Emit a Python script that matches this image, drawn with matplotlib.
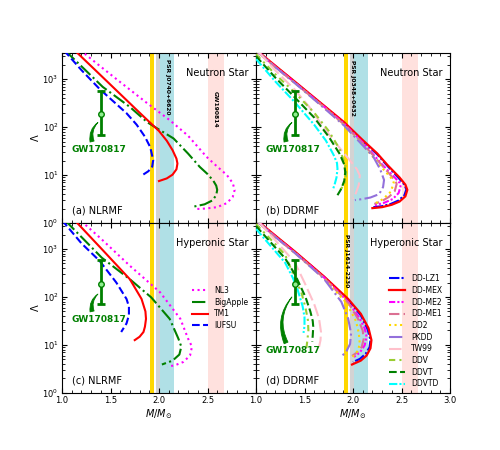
import numpy as np
import matplotlib
matplotlib.use("Agg")
import matplotlib.pyplot as plt
from matplotlib.ticker import FixedLocator, MultipleLocator, LogLocator, NullFormatter

# ---------------------------------------------------------------
# values (M in solar masses, Lambda)
# ---------------------------------------------------------------
# GW170817 constraint on Lambda_1.4
gw_m = 1.4
gw_lam = 190.0
gw_lo = 70.0
gw_hi = 580.0

# (a) NLRMF, neutron star
nl3_ns_m = [1.19, 1.40, 1.60, 1.87, 2.11, 2.30, 2.49, 2.60, 2.70, 2.76, 2.78, 2.76, 2.70, 2.60, 2.48, 2.37]
nl3_ns_lam = [4000, 1820, 870, 325, 140, 66, 24, 15, 10, 6.8, 4.9, 3.5, 2.6, 2.14, 2.0, 1.95]
bigapple_ns_m = [1.03, 1.20, 1.42, 1.70, 1.88, 2.00, 2.15, 2.30, 2.42, 2.50, 2.56, 2.59, 2.60, 2.59, 2.55, 2.47, 2.36]
bigapple_ns_lam = [4000, 1860, 690, 263, 126, 89, 58, 28, 14.8, 10.5, 7.6, 6.0, 4.9, 3.8, 2.95, 2.45, 2.2]
tm1_ns_m = [1.13, 1.40, 1.60, 1.80, 1.91, 2.00, 2.08, 2.14, 2.18, 2.19, 2.18, 2.14, 2.08, 2.00]
tm1_ns_lam = [4000, 1200, 490, 200, 123, 83, 52, 33, 22, 17.4, 13.2, 10.2, 8.5, 7.5]
iufsu_ns_m = [1.02, 1.20, 1.39, 1.55, 1.665, 1.77, 1.855, 1.91, 1.94, 1.93, 1.89, 1.83]
iufsu_ns_lam = [4000, 1550, 617, 316, 195, 112, 63, 38, 20.4, 15, 12, 10]

# (c) NLRMF, hyperonic star
nl3_hs_m = [1.20, 1.40, 1.70, 2.01, 2.22, 2.30, 2.34, 2.32, 2.25, 2.17, 2.09]
nl3_hs_lam = [3800, 1660, 447, 126, 35, 13.5, 9.2, 6.0, 4.4, 3.8, 3.5]
bigapple_hs_m = [1.03, 1.41, 1.70, 1.92, 2.11, 2.20, 2.23, 2.21, 2.14, 2.03]
bigapple_hs_lam = [4000, 660, 234, 98, 35, 13.5, 9.2, 6.3, 4.7, 3.9]
tm1_hs_m = [1.13, 1.40, 1.70, 1.82, 1.86, 1.866, 1.855, 1.84, 1.80, 1.75]
tm1_hs_lam = [4000, 1050, 234, 91, 50, 35, 24, 18.6, 14.8, 12.6]
iufsu_hs_m = [1.00, 1.20, 1.39, 1.56, 1.665, 1.69, 1.69, 1.665, 1.61]
iufsu_hs_lam = [4000, 1320, 560, 200, 91, 63, 42, 28, 18.6]

# (b) DDRMF, neutron star
ddlz1_ns_m = [1.02, 1.2, 1.4, 1.7, 1.91, 2.1, 2.25, 2.36, 2.47, 2.53, 2.55, 2.53, 2.47, 2.39, 2.30, 2.21]
ddlz1_ns_lam = [3715, 1862, 871, 275, 120, 51, 27, 15.1, 8.7, 6.3, 5.0, 3.8, 2.95, 2.5, 2.24, 2.14]
ddmex_ns_m = [1.02, 1.2, 1.4, 1.7, 1.91, 2.1, 2.25, 2.36, 2.48, 2.54, 2.56, 2.54, 2.48, 2.40, 2.30, 2.20]
ddmex_ns_lam = [3800, 1905, 891, 282, 126, 53.7, 28.2, 15.8, 8.9, 6.3, 4.9, 3.6, 2.8, 2.4, 2.14, 2.04]
ddme2_ns_m = [1.02, 1.2, 1.4, 1.7, 1.91, 2.1, 2.3, 2.43, 2.48, 2.49, 2.47, 2.41, 2.32, 2.21]
ddme2_ns_lam = [3715, 1820, 851, 269, 117, 48, 16.6, 8.9, 6.9, 5.75, 4.2, 3.16, 2.63, 2.29]
ddme1_ns_m = [1.02, 1.2, 1.4, 1.7, 1.91, 2.1, 2.3, 2.40, 2.44, 2.45, 2.43, 2.37, 2.29, 2.22]
ddme1_ns_lam = [3630, 1778, 832, 263, 112, 45.7, 15.8, 9.3, 7.4, 6.5, 4.6, 3.5, 2.8, 2.5]
dd2_ns_m = [1.02, 1.2, 1.4, 1.7, 1.91, 2.1, 2.3, 2.38, 2.41, 2.42, 2.39, 2.31, 2.23]
dd2_ns_lam = [3630, 1778, 832, 257, 110, 42.7, 14.1, 9.3, 7.9, 6.9, 4.5, 3.16, 2.57]
pkdd_ns_m = [1.02, 1.2, 1.4, 1.7, 1.91, 2.1, 2.21, 2.28, 2.32, 2.31, 2.27, 2.18, 2.10, 2.02]
pkdd_ns_lam = [3630, 1778, 832, 251, 107, 41.7, 24, 13.2, 7.9, 5.6, 4.0, 3.4, 3.16, 3.0]
tw99_ns_m = [1.03, 1.2, 1.4, 1.55, 1.67, 1.80, 1.95, 2.04, 2.07, 2.06, 2.03, 2.00]
tw99_ns_lam = [3630, 1514, 603, 263, 117, 52.5, 22.4, 13.2, 9.8, 6.3, 4.2, 3.2]
ddv_ns_m = [1.0, 1.2, 1.4, 1.6, 1.75, 1.86, 1.92, 1.93, 1.92, 1.90, 1.87]
ddv_ns_lam = [3311, 1259, 525, 200, 83, 35.5, 16.6, 11.2, 7.6, 5.9, 5.0]
ddvt_ns_m = [1.0, 1.2, 1.4, 1.6, 1.75, 1.86, 1.91, 1.92, 1.91, 1.88, 1.84]
ddvt_ns_lam = [3020, 1072, 417, 158, 63, 28.2, 16.6, 11.5, 7.6, 5.2, 3.8]
ddvtd_ns_m = [1.0, 1.2, 1.4, 1.6, 1.72, 1.80, 1.835, 1.84, 1.83, 1.81, 1.79]
ddvtd_ns_lam = [2630, 891, 331, 112, 52.5, 26.3, 17.8, 13.5, 8.9, 6.3, 4.8]

# (d) DDRMF, hyperonic star
ddlz1_hs_m = [1.02, 1.2, 1.4, 1.7, 1.95, 2.08, 2.15, 2.18, 2.17, 2.13, 2.07, 2.00]
ddlz1_hs_lam = [3715, 1862, 871, 263, 87, 41.7, 21.4, 12.6, 8.9, 6.5, 5.1, 4.4]
ddmex_hs_m = [1.02, 1.2, 1.4, 1.7, 1.95, 2.08, 2.16, 2.19, 2.18, 2.14, 2.08, 1.99]
ddmex_hs_lam = [3800, 1905, 891, 269, 91, 44.7, 22.4, 12.6, 8.5, 6.0, 4.7, 3.9]
ddme2_hs_m = [1.02, 1.2, 1.4, 1.7, 1.95, 2.06, 2.12, 2.14, 2.12, 2.07, 2.01]
ddme2_hs_lam = [3715, 1820, 851, 257, 79, 38, 22.4, 14.8, 9.8, 6.9, 5.6]
ddme1_hs_m = [1.02, 1.2, 1.4, 1.7, 1.95, 2.05, 2.10, 2.11, 2.09, 2.04, 1.99]
ddme1_hs_lam = [3630, 1778, 832, 251, 76, 35.5, 20, 13.2, 9.1, 6.9, 5.9]
dd2_hs_m = [1.02, 1.2, 1.4, 1.7, 1.93, 2.03, 2.06, 2.07, 2.05, 2.01, 1.97]
dd2_hs_lam = [3630, 1778, 832, 245, 76, 31.6, 17.8, 10.5, 7.6, 6.0, 5.2]
pkdd_hs_m = [1.02, 1.2, 1.4, 1.7, 1.88, 1.95, 1.98, 1.97, 1.93, 1.88]
pkdd_hs_lam = [3630, 1778, 832, 240, 79, 35.5, 17.4, 10.5, 7.2, 5.75]
tw99_hs_m = [1.03, 1.2, 1.4, 1.50, 1.60, 1.65, 1.67, 1.665, 1.65]
tw99_hs_lam = [3630, 1514, 525, 200, 71, 35.5, 18.6, 12.6, 9.1]
ddv_hs_m = [1.0, 1.2, 1.3, 1.4, 1.47, 1.51, 1.535, 1.54, 1.53, 1.52]
ddv_hs_lam = [3311, 1259, 760, 250, 120, 60, 33, 20, 12.6, 8.7]
ddvt_hs_m = [1.0, 1.2, 1.3, 1.4, 1.51, 1.56, 1.585, 1.59, 1.585, 1.58]
ddvt_hs_lam = [3020, 1072, 640, 300, 100, 50, 31.6, 24, 15.8, 11.7]
ddvtd_hs_m = [1.0, 1.2, 1.3, 1.38, 1.43, 1.48, 1.50, 1.50, 1.49]
ddvtd_hs_lam = [2630, 891, 520, 250, 140, 65, 38, 25, 17.8]

# observational mass bands (lo, hi)
j1614_band = (1.911, 1.945)
j0348_band = (1.97, 2.05)
j0740_band = (2.01, 2.15)
gw190814_band = (2.50, 2.67)

# ---------------------------------------------------------------
nl_styles = [
    ("NL3", "magenta", ":", 1.5),
    ("BigApple", "green", "-.", 1.5),
    ("TM1", "red", "-", 1.5),
    ("IUFSU", "blue", "--", 1.5),
]
dd_styles = [
    ("DD-LZ1", "blue", (0, (5, 1, 1, 1)), 1.5),
    ("DD-MEX", "red", "-", 1.6),
    ("DD-ME2", "magenta", (0, (3, 1, 1, 1, 1, 1)), 1.5),
    ("DD-ME1", "palevioletred", (0, (5, 2)), 1.5),
    ("DD2", "gold", ":", 1.5),
    ("PKDD", "mediumpurple", "-.", 1.5),
    ("TW99", "pink", (0, (6, 2)), 1.5),
    ("DDV", "yellowgreen", (0, (3, 2, 1, 2)), 1.5),
    ("DDVT", "green", "--", 1.5),
    ("DDVTD", "cyan", (0, (4, 1, 1, 1)), 1.5),
]

nl_ns = [(nl3_ns_m, nl3_ns_lam), (bigapple_ns_m, bigapple_ns_lam), (tm1_ns_m, tm1_ns_lam), (iufsu_ns_m, iufsu_ns_lam)]
nl_hs = [(nl3_hs_m, nl3_hs_lam), (bigapple_hs_m, bigapple_hs_lam), (tm1_hs_m, tm1_hs_lam), (iufsu_hs_m, iufsu_hs_lam)]
dd_ns = [(ddlz1_ns_m, ddlz1_ns_lam), (ddmex_ns_m, ddmex_ns_lam), (ddme2_ns_m, ddme2_ns_lam), (ddme1_ns_m, ddme1_ns_lam),
         (dd2_ns_m, dd2_ns_lam), (pkdd_ns_m, pkdd_ns_lam), (tw99_ns_m, tw99_ns_lam), (ddv_ns_m, ddv_ns_lam),
         (ddvt_ns_m, ddvt_ns_lam), (ddvtd_ns_m, ddvtd_ns_lam)]
dd_hs = [(ddlz1_hs_m, ddlz1_hs_lam), (ddmex_hs_m, ddmex_hs_lam), (ddme2_hs_m, ddme2_hs_lam), (ddme1_hs_m, ddme1_hs_lam),
         (dd2_hs_m, dd2_hs_lam), (pkdd_hs_m, pkdd_hs_lam), (tw99_hs_m, tw99_hs_lam), (ddv_hs_m, ddv_hs_lam),
         (ddvt_hs_m, ddvt_hs_lam), (ddvtd_hs_m, ddvtd_hs_lam)]

fig, axes = plt.subplots(2, 2, figsize=(5, 4.5), dpi=100)
plt.subplots_adjust(left=0.124, right=0.90, top=0.882, bottom=0.127, wspace=0, hspace=0)
(ax_a, ax_b), (ax_c, ax_d) = axes


def draw_bands(ax):
    ax.axvspan(*j0348_band, color="lightgray", lw=0, zorder=0)
    ax.axvspan(*j0740_band, color="powderblue", lw=0, zorder=0)
    ax.axvspan(*j1614_band, color="gold", lw=0, zorder=0)
    ax.axvspan(*gw190814_band, color="#ffe1de", lw=0, zorder=0)


def draw_gw(ax, text_y, arrow_from, arrow_to):
    ax.errorbar([gw_m], [gw_lam], yerr=[[gw_lam - gw_lo], [gw_hi - gw_lam]], color="green",
                elinewidth=2, capsize=3, capthick=2, marker="o", ms=4,
                mfc="lightgreen", mec="green", zorder=5)
    ax.text(1.1, text_y, "GW170817", color="green", fontsize=6.5, fontweight="bold", va="center")
    ax.annotate("", xy=arrow_to, xytext=arrow_from,
                arrowprops=dict(arrowstyle="wedge,tail_width=0.3,shrink_factor=0.5", fc="green", ec="green",
                                connectionstyle="arc3,rad=-0.3", lw=0.6, shrinkA=0, shrinkB=0), zorder=5)


def plot_set(ax, styles, curves):
    for (name, col, ls, lw), (m, lam) in zip(styles, curves):
        ax.plot(m, lam, color=col, ls=ls, lw=lw, label=name, zorder=3)


for ax in axes.flat:
    draw_bands(ax)

plot_set(ax_a, nl_styles, nl_ns)
plot_set(ax_c, nl_styles, nl_hs)
plot_set(ax_b, dd_styles, dd_ns)
plot_set(ax_d, dd_styles, dd_hs)

draw_gw(ax_a, 34, (1.31, 50), (1.37, 125))
draw_gw(ax_b, 34, (1.31, 50), (1.37, 125))
draw_gw(ax_c, 34, (1.31, 50), (1.37, 115))
draw_gw(ax_d, 7.8, (1.31, 11), (1.37, 100))

band_txt = dict(rotation=-90, fontsize=4.3, fontweight="bold", ha="center", va="top")
ax_a.text(2.09, 2600, "PSR J0740+6620", **band_txt)
ax_a.text(2.585, 580, "GW190814", **band_txt)
ax_b.text(1.99, 2500, "PSR J0348+0432", **band_txt)
ax_d.text(1.928, 2100, "PSR J1614-2230", **band_txt)

for ax, lab in zip(axes.flat, ["(a) NLRMF", "(b) DDRMF", "(c) NLRMF", "(d) DDRMF"]):
    ax.text(0.053, 0.045, lab, transform=ax.transAxes, fontsize=7, va="bottom")
for ax in (ax_a, ax_b):
    ax.text(0.96, 0.885, "Neutron Star", transform=ax.transAxes, fontsize=7, ha="right", va="center")
for ax in (ax_c, ax_d):
    ax.text(0.96, 0.885, "Hyperonic Star", transform=ax.transAxes, fontsize=7, ha="right", va="center")

for i, ax in enumerate(axes.flat):
    ax.set_yscale("log")
    ax.set_xlim(1.0, 3.0)
    ax.set_ylim(1.0, 3500)
    if i % 2 == 0:
        ax.xaxis.set_major_locator(FixedLocator([1.0, 1.5, 2.0, 2.5]))
    else:
        ax.xaxis.set_major_locator(FixedLocator([1.0, 1.5, 2.0, 2.5, 3.0]))
    ax.xaxis.set_minor_locator(MultipleLocator(0.1))
    ax.yaxis.set_major_locator(LogLocator(base=10))
    ax.yaxis.set_minor_locator(LogLocator(base=10, subs=np.arange(2, 10)))
    ax.yaxis.set_minor_formatter(NullFormatter())
    ax.tick_params(which="both", direction="in", top=True, right=True, labelsize=6, pad=2.5)
    ax.tick_params(which="major", length=3.5, width=0.8)
    ax.tick_params(which="minor", length=2, width=0.6)
    if i < 2:
        ax.tick_params(labelbottom=False)
    if i % 2 == 1:
        ax.tick_params(labelleft=False)
    for sp in ax.spines.values():
        sp.set_linewidth(0.8)

ax_a.set_ylabel(r"$\Lambda$", fontsize=7, labelpad=1)
ax_c.set_ylabel(r"$\Lambda$", fontsize=7, labelpad=1)
ax_c.set_xlabel(r"$M/M_{\odot}$", fontsize=7, labelpad=1)
ax_d.set_xlabel(r"$M/M_{\odot}$", fontsize=7, labelpad=1)

leg_kw = dict(frameon=False, fontsize=5.5, handlelength=2.1, handletextpad=0.8, labelspacing=0.35,
              borderpad=0, borderaxespad=0)
ax_c.legend(loc="center left", bbox_to_anchor=(0.67, 0.50), **leg_kw)
ax_d.legend(loc="center left", bbox_to_anchor=(0.685, 0.363), **leg_kw)

fig.savefig("out.png", dpi=100)
